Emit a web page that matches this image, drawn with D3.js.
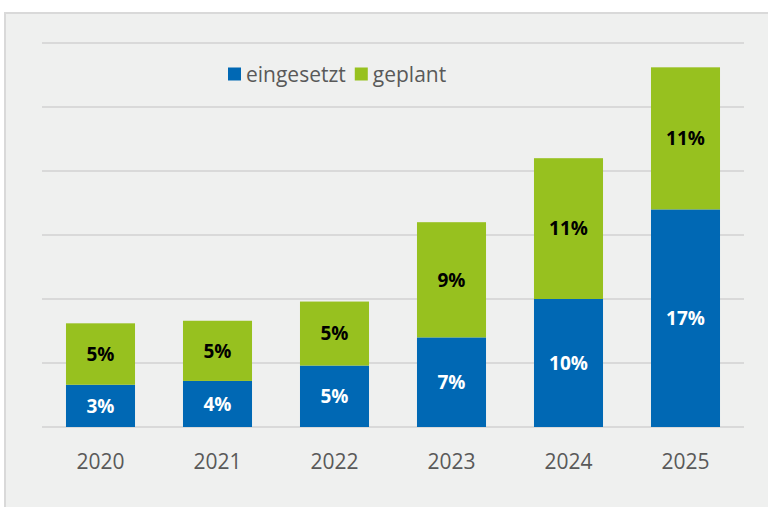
<!DOCTYPE html>
<html>
<head>
<meta charset="utf-8">
<script src="https://cdn.jsdelivr.net/npm/d3@7"></script>
<style>
  body { margin: 0; background: #ffffff; }
  svg { display: block; font-family: "Open Sans", Lato, sans-serif; }
</style>
</head>
<body>
<svg width="768" height="507"></svg>
<script>
// chart data
const years = ["2020", "2021", "2022", "2023", "2024", "2025"];
const eingesetzt = [3.3, 3.6, 4.8, 7.0, 10.0, 17.0];
const geplant = [4.8, 4.7, 5.0, 9.0, 11.0, 11.1];
const seriesNames = ["eingesetzt", "geplant"];
const yTicks = [0, 5, 10, 15, 20, 25, 30];

const svg = d3.select("svg");
const width = +svg.attr("width");
const height = +svg.attr("height");

const colors = { eingesetzt: "#0068b4", geplant: "#97c11f" };

// grey panel
svg.append("rect")
    .attr("x", 5).attr("y", 13)
    .attr("width", width + 10).attr("height", height)
    .attr("fill", "#eff0ef")
    .attr("stroke", "#d9d9d9")
    .attr("stroke-width", 2);

const margin = { left: 42, right: 24, top: 43, bottom: 80 };

const x = d3.scaleBand()
    .domain(years)
    .range([margin.left, width - margin.right])
    .paddingInner(0.41)
    .paddingOuter(0.205);

const y = d3.scaleLinear()
    .domain([0, 30])
    .range([height - margin.bottom, margin.top]);

// gridlines
svg.append("g")
    .selectAll("line")
    .data(yTicks)
    .enter()
    .append("line")
    .attr("x1", margin.left)
    .attr("x2", width - margin.right)
    .attr("y1", d => y(d))
    .attr("y2", d => y(d))
    .attr("stroke", "#d9d9d9")
    .attr("stroke-width", 2);

const table = years.map((yr, i) => ({ year: yr, eingesetzt: eingesetzt[i], geplant: geplant[i] }));
const stack = d3.stack().keys(seriesNames)(table);

const layers = svg.append("g")
    .selectAll("g")
    .data(stack)
    .enter()
    .append("g")
    .attr("fill", d => colors[d.key]);

layers.selectAll("rect")
    .data(d => d)
    .enter()
    .append("rect")
    .attr("x", d => x(d.data.year))
    .attr("width", x.bandwidth())
    .attr("y", d => y(d[1]))
    .attr("height", d => y(d[0]) - y(d[1]));

// value labels
layers.selectAll("text")
    .data(d => d.map(v => ({ v, key: d.key })))
    .enter()
    .append("text")
    .attr("x", d => x(d.v.data.year) + x.bandwidth() / 2)
    .attr("y", d => (y(d.v[0]) + y(d.v[1])) / 2)
    .attr("dy", "0.36em")
    .attr("text-anchor", "middle")
    .attr("font-size", 19)
    .attr("font-weight", "bold")
    .attr("fill", d => d.key === "eingesetzt" ? "#ffffff" : "#000000")
    .text(d => Math.round(d.v.data[d.key]) + "%");

// x axis labels
svg.append("g")
    .selectAll("text")
    .data(years)
    .enter()
    .append("text")
    .attr("x", d => x(d) + x.bandwidth() / 2)
    .attr("y", 461)
    .attr("dy", "0.36em")
    .attr("text-anchor", "middle")
    .attr("font-size", 21)
    .attr("fill", "#595959")
    .text(d => d);

// legend
const legend = svg.append("g").attr("transform", "translate(228,74)");
let lx = 0;
seriesNames.forEach(name => {
    const item = legend.append("g").attr("transform", `translate(${lx},0)`);
    item.append("rect")
        .attr("x", 0).attr("y", -6.5)
        .attr("width", 13).attr("height", 13)
        .attr("fill", colors[name]);
    const t = item.append("text")
        .attr("x", 18)
        .attr("dy", "0.36em")
        .attr("font-size", 21)
        .attr("fill", "#595959")
        .text(name);
    lx += 18 + t.node().getComputedTextLength() + 9;
});
</script>
</body>
</html>
